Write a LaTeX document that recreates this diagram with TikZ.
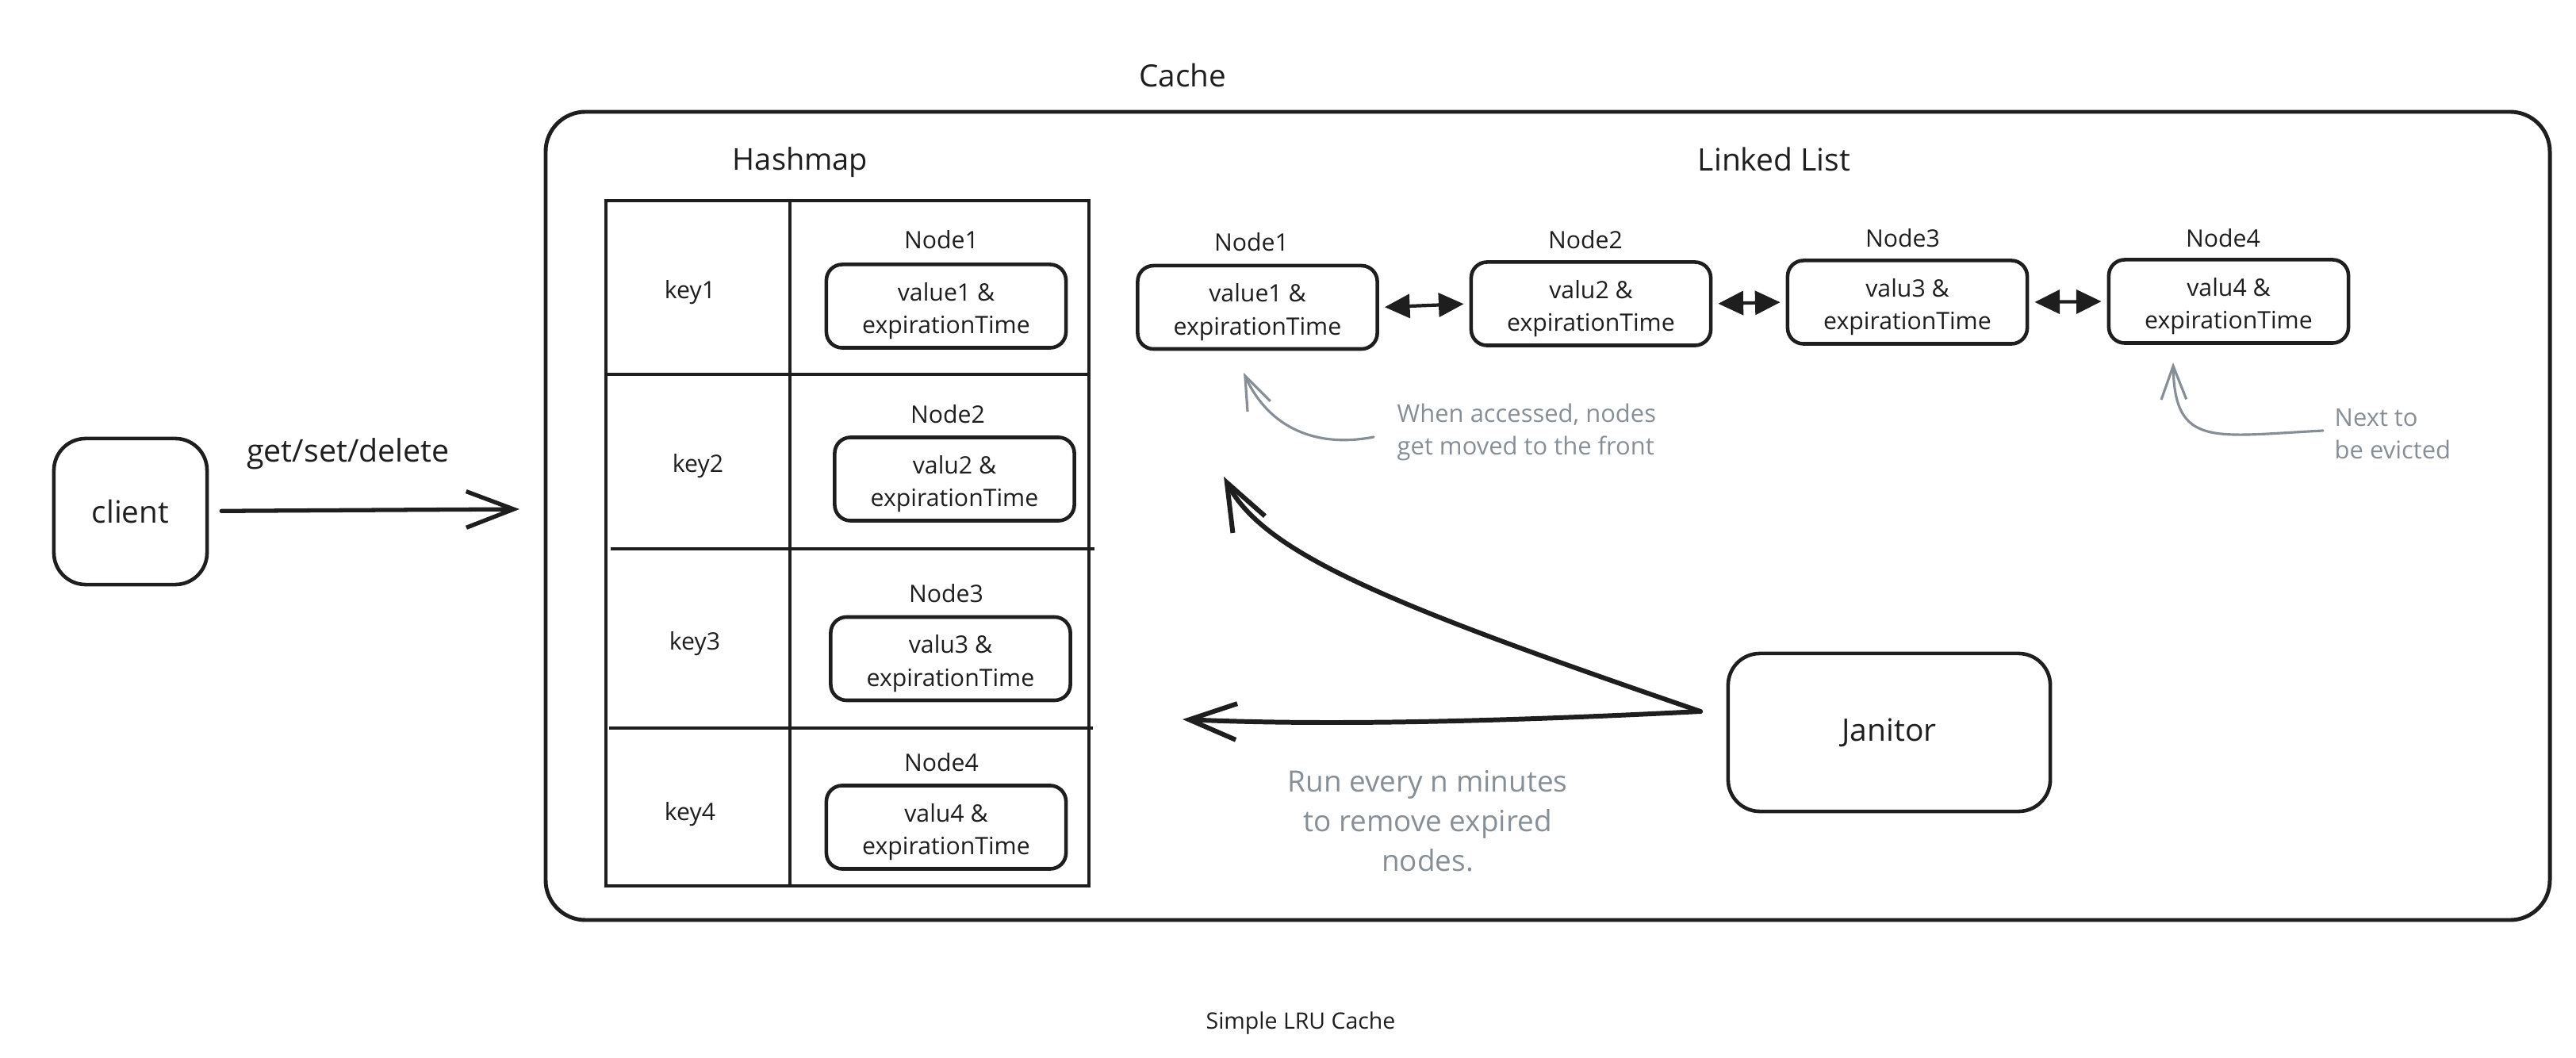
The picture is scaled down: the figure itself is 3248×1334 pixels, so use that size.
\documentclass[tikz,border=0pt]{standalone}
\usepackage{fontspec}
\setmainfont{Open Sans}
\usetikzlibrary{arrows.meta}
\definecolor{ink}{HTML}{1E1E1E}
\definecolor{note}{HTML}{868E96}
\newcommand{\fsz}[2]{\fontsize{#1}{#2}\selectfont}
\newcommand{\tstrut}{\rule{0pt}{10pt}}
\tikzset{
  vbox/.style={draw=ink, line width=1.3pt, rounded corners=0.2cm, minimum width=3.02cm, minimum height=1.05cm, align=center, inner sep=0pt, text=ink, font=\fsz{8.6}{11.7}},
  lbl/.style={text=ink, inner sep=0pt, font=\fsz{8.6}{11.7}},
  head/.style={text=ink, inner sep=0pt, font=\fsz{11}{13}},
  notetxt/.style={text=note, inner sep=0pt, align=left, font=\fsz{8.8}{11.8}},
  bigarrow/.style={draw=ink, line width=1.5pt, line cap=round, -{Straight Barb[length=17pt,width=13pt]}},
  dblarrow/.style={draw=ink, line width=1.2pt, {Triangle[length=9pt,width=8.5pt]}-{Triangle[length=9pt,width=8.5pt]}},
  notearrow/.style={draw=note, line width=0.9pt, line cap=round, -{Straight Barb[length=12pt,width=9pt]}},
  tline/.style={draw=ink, line width=1.0pt},
  tdiv/.style={draw=ink, line width=1.4pt},
}
\begin{document}
\begin{tikzpicture}[x=0.01cm,y=-0.01cm]
\useasboundingbox (0,0) rectangle (3248,1334);

% Cache container
\node[head] (cachelab) at (1491,95) {Cache};
\draw[draw=ink, line width=1.4pt, rounded corners=0.5cm] (688,141) rectangle (3215,1160);

% Client
\node[draw=ink, line width=1.3pt, rounded corners=0.4cm, minimum width=1.93cm, minimum height=1.84cm, text=ink, font=\fsz{11}{13}] (client) at (164.5,645) {client};
\coordinate (inlet) at (655,642);
\draw[bigarrow, shorten <=4.5pt] (client) -- (inlet);
\node[head, font=\fsz{11.2}{13}] (ops) at (439,572) {get/set/delete};

% Hashmap
\node[head, font=\fsz{10.8}{13}] (hmlab) at (1009,205) {Hashmap};
\draw[tline] (764,253) rectangle (1373,1117);
\draw[tdiv] (996,253) -- (996,1117);
\draw[tdiv] (764,472) -- (1373,472);
\draw[tdiv] (770,692) -- (1380,692);
\draw[tdiv] (768,918) -- (1378,918);

\node[lbl] (k1) at (870,369) {key1};
\node[lbl] (k2) at (880,588) {key2};
\node[lbl] (k3) at (876,812) {key3};
\node[lbl] (k4) at (870,1027) {key4};

\node[lbl] (h1lab) at (1187,302) {Node1};
\node[vbox] (h1) at (1193,386) {\tstrut value1 \&\\expirationTime};
\node[lbl] (h2lab) at (1195,522) {Node2};
\node[vbox] (h2) at (1203.5,604) {\tstrut valu2 \&\\expirationTime};
\node[lbl] (h3lab) at (1193,748) {Node3};
\node[vbox] (h3) at (1198.5,830.5) {\tstrut valu3 \&\\expirationTime};
\node[lbl] (h4lab) at (1187,961) {Node4};
\node[vbox] (h4) at (1193,1043) {\tstrut valu4 \&\\expirationTime};

% Linked list
\node[head, font=\fsz{11.1}{13}] (lllab) at (2237,201) {Linked List};
\node[lbl] (l1lab) at (1578,305) {Node1};
\node[vbox] (l1) at (1585.5,387.5) {\tstrut value1 \&\\expirationTime};
\node[lbl] (l2lab) at (1999,302) {Node2};
\node[vbox] (l2) at (2006,383) {\tstrut valu2 \&\\expirationTime};
\node[lbl] (l3lab) at (2399,300) {Node3};
\node[vbox] (l3) at (2405,381) {\tstrut valu3 \&\\expirationTime};
\node[lbl] (l4lab) at (2803,300) {Node4};
\node[vbox] (l4) at (2810,380) {\tstrut valu4 \&\\expirationTime};

\draw[dblarrow, shorten <=2pt, shorten >=2pt] (l1.east) -- (l2.west);
\draw[dblarrow, shorten <=2pt, shorten >=2pt] (l2.east) -- (l3.west);
\draw[dblarrow, shorten <=2pt, shorten >=2pt] (l3.east) -- (l4.west);

% Annotations
\node[notetxt, anchor=west] (note1) at (1761,545) {When accessed, nodes\\get moved to the front};
\coordinate (n1a) at (1732,551);
\coordinate (n1b) at (1568,470);
\draw[notearrow] (n1a) .. controls (1660,565) and (1600,540) .. (n1b);

\node[notetxt, anchor=west] (note2) at (2943,547) {Next to\\be evicted};
\coordinate (n2a) at (2929,543);
\coordinate (n2b) at (2740,457);
\draw[notearrow] (n2a) .. controls (2790,550) and (2742,565) .. (n2b);

% Janitor
\node[draw=ink, line width=1.3pt, rounded corners=0.4cm, minimum width=4.06cm, minimum height=1.99cm, text=ink, font=\fsz{11.1}{13}] (janitor) at (2382,923.5) {Janitor};
\coordinate (js) at (2144,897);
\coordinate (je1) at (1491,907);
\coordinate (je2) at (1543,601);
\draw[bigarrow, line width=1.7pt] (js) .. controls (1850,912) and (1650,914) .. (je1);
\draw[bigarrow, line width=1.7pt] (js) .. controls (1760,765) and (1595,700) .. (je2);

\node[text=note, inner sep=0pt, align=center, font=\fsz{10.5}{14.3}] (runtxt) at (1800,1035) {Run every n minutes\\to remove expired\\nodes.};

% Caption
\node[text=ink, inner sep=0pt, font=\fsz{8.1}{10}] (caption) at (1640,1290) {Simple LRU Cache};
\end{tikzpicture}
\end{document}
